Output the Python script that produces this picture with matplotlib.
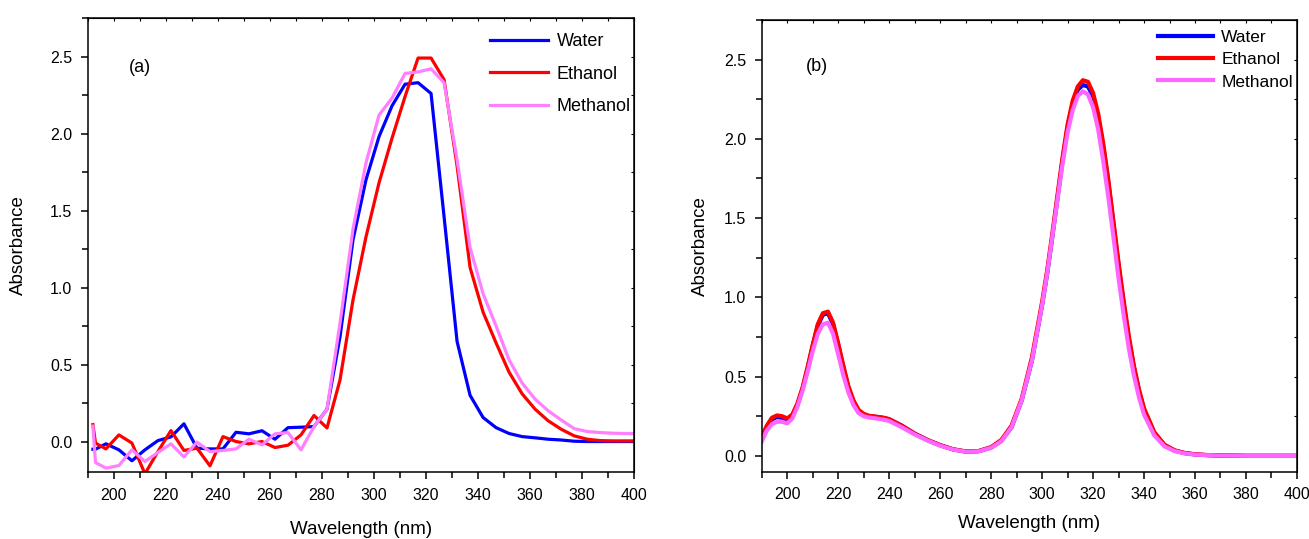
import numpy as np
import matplotlib
matplotlib.use('Agg')
import matplotlib.pyplot as plt
from matplotlib.ticker import MultipleLocator

plt.rcParams['font.family'] = ['Liberation Sans', 'DejaVu Sans']

# ---- panel (a): raw spectra, 5 nm steps ----
wl_a = [192, 193, 197, 202, 207, 212, 217, 222, 227, 232, 237, 242, 247, 252, 257,
        262, 267, 272, 277, 282, 287, 292, 297, 302, 307, 312, 317, 322, 327, 332,
        337, 342, 347, 352, 357, 362, 367, 372, 377, 382, 387, 392, 397, 400]
water_a = [-0.05, -0.05, -0.015, -0.054, -0.125, -0.054, 0.006, 0.03, 0.115, -0.043,
           -0.048, -0.048, 0.06, 0.05, 0.07, 0.015, 0.09, 0.093, 0.097, 0.21,
           0.68, 1.31, 1.70, 1.98, 2.18, 2.32, 2.33, 2.26, 1.46, 0.65,
           0.30, 0.156, 0.09, 0.052, 0.032, 0.024, 0.015, 0.01, 0.002, 0.0,
           0.0, 0.0, 0.0, 0.0]
ethanol_a = [0.11, -0.01, -0.048, 0.043, -0.01, -0.21, -0.065, 0.071, -0.058, -0.043,
             -0.158, 0.032, 0.0, -0.015, 0.0, -0.039, -0.024, 0.043, 0.169, 0.088,
             0.40, 0.92, 1.33, 1.68, 1.97, 2.24, 2.49, 2.49, 2.35, 1.79,
             1.13, 0.84, 0.64, 0.45, 0.31, 0.21, 0.135, 0.08, 0.037, 0.015,
             0.006, 0.004, 0.004, 0.004]
methanol_a = [0.10, -0.136, -0.173, -0.156, -0.054, -0.13, -0.071, -0.015, -0.10, -0.004,
              -0.065, -0.058, -0.048, 0.015, -0.022, 0.05, 0.058, -0.054, 0.097, 0.21,
              0.77, 1.38, 1.81, 2.12, 2.23, 2.39, 2.40, 2.42, 2.33, 1.83,
              1.26, 0.96, 0.75, 0.53, 0.38, 0.275, 0.20, 0.14, 0.084, 0.065,
              0.058, 0.054, 0.052, 0.052]

# ---- panel (b): smoothed spectra ----
wl_b = [190, 192, 194, 196, 198, 200, 202, 204, 206, 208, 210, 212, 214, 216, 218,
        220, 222, 224, 226, 228, 230, 232, 234, 236, 238, 240, 245, 250, 255, 260,
        265, 270, 275, 280, 284, 288, 292, 296, 300, 302, 304, 306, 308, 310, 312,
        314, 316, 318, 320, 322, 324, 326, 328, 330, 332, 334, 336, 338, 340, 344,
        348, 352, 356, 360, 365, 370, 380, 390, 400]
ethanol_b = [0.12, 0.19, 0.24, 0.255, 0.25, 0.236, 0.26, 0.33, 0.43, 0.56, 0.70, 0.83, 0.90, 0.91, 0.84,
             0.71, 0.57, 0.44, 0.35, 0.29, 0.265, 0.253, 0.249, 0.245, 0.24, 0.232, 0.19, 0.14, 0.10, 0.068,
             0.042, 0.028, 0.03, 0.055, 0.10, 0.19, 0.36, 0.62, 0.97, 1.17, 1.40, 1.64, 1.88, 2.09, 2.24,
             2.33, 2.37, 2.36, 2.29, 2.16, 1.97, 1.74, 1.48, 1.22, 0.98, 0.76, 0.57, 0.42, 0.30, 0.15,
             0.07, 0.035, 0.018, 0.01, 0.005, 0.003, 0.0, 0.0, 0.0]
water_b = [0.11, 0.18, 0.23, 0.245, 0.24, 0.228, 0.255, 0.32, 0.42, 0.55, 0.69, 0.82, 0.89, 0.90, 0.83,
           0.70, 0.56, 0.43, 0.34, 0.285, 0.26, 0.25, 0.247, 0.243, 0.238, 0.23, 0.19, 0.14, 0.10, 0.067,
           0.041, 0.027, 0.029, 0.052, 0.095, 0.18, 0.35, 0.60, 0.95, 1.15, 1.38, 1.62, 1.86, 2.07, 2.22,
           2.31, 2.34, 2.33, 2.27, 2.14, 1.95, 1.72, 1.46, 1.20, 0.96, 0.74, 0.56, 0.41, 0.29, 0.145,
           0.068, 0.033, 0.017, 0.009, 0.004, 0.002, 0.0, 0.0, 0.0]
methanol_b = [0.09, 0.16, 0.20, 0.215, 0.215, 0.205, 0.235, 0.31, 0.41, 0.53, 0.66, 0.77, 0.83, 0.84, 0.77,
              0.64, 0.51, 0.40, 0.32, 0.27, 0.25, 0.242, 0.238, 0.233, 0.228, 0.22, 0.18, 0.135, 0.097, 0.064,
              0.04, 0.026, 0.028, 0.05, 0.092, 0.18, 0.35, 0.60, 0.95, 1.15, 1.38, 1.61, 1.84, 2.04, 2.18,
              2.27, 2.30, 2.28, 2.20, 2.06, 1.86, 1.63, 1.38, 1.12, 0.89, 0.68, 0.51, 0.37, 0.26, 0.13,
              0.06, 0.03, 0.015, 0.008, 0.004, 0.002, 0.0, 0.0, 0.0]

labels = ['Water', 'Ethanol', 'Methanol']

fig = plt.figure(figsize=(13.09, 5.39), dpi=100)
ax1 = fig.add_axes([0.0670, 0.1237, 0.4173, 0.8429])
ax2 = fig.add_axes([0.5819, 0.1249, 0.4089, 0.8380])

ax1.plot(wl_a, water_a, color='#0000ff', lw=2.3, label=labels[0])
ax1.plot(wl_a, ethanol_a, color='#ff0000', lw=2.3, label=labels[1])
ax1.plot(wl_a, methanol_a, color='#ff80ff', lw=2.3, label=labels[2])

ax2.plot(wl_b, water_b, color='#0000ff', lw=3.0, label=labels[0])
ax2.plot(wl_b, ethanol_b, color='#ff0000', lw=3.0, label=labels[1])
ax2.plot(wl_b, methanol_b, color='#ff66ff', lw=3.0, label=labels[2])

ax1.set_ylim(-0.2, 2.75)
ax2.set_ylim(-0.1, 2.75)

for ax in (ax1, ax2):
    ax.set_xlim(190, 400)
    ax.xaxis.set_major_locator(MultipleLocator(20))
    ax.xaxis.set_minor_locator(MultipleLocator(10))
    ax.yaxis.set_major_locator(MultipleLocator(0.5))
    ax.yaxis.set_minor_locator(MultipleLocator(0.25))
    ax.tick_params(which='both', direction='out', labelsize=11.5, width=1.1,
                   top=False, right=False)
    ax.tick_params(which='major', length=5, pad=6)
    ax.tick_params(which='minor', length=4)
    for s in ax.spines.values():
        s.set_linewidth(1.1)
    # inner ticks on top and right
    sec = ax.secondary_xaxis('top')
    sec.xaxis.set_major_locator(MultipleLocator(10))
    sec.tick_params(direction='in', length=2.5, labeltop=False, width=0.8)
    secy = ax.secondary_yaxis('right')
    secy.yaxis.set_major_locator(MultipleLocator(0.25))
    secy.tick_params(direction='in', length=2.5, labelright=False, width=0.8)

ax1.set_xlabel('Wavelength (nm)', fontsize=13.5, labelpad=13)
ax1.set_ylabel('Absorbance', fontsize=13.5, labelpad=17)
ax2.set_xlabel('Wavelength (nm)', fontsize=13.5, labelpad=9.5)
ax2.set_ylabel('Absorbance', fontsize=13.5, labelpad=11)

# legends
h, l = ax1.get_legend_handles_labels()
ax1.legend(h, l, loc='upper left', bbox_to_anchor=(0.736, 0.967), frameon=False,
           fontsize=13, handlelength=3.2, handletextpad=0.5, labelspacing=0.87,
           borderpad=0, borderaxespad=0)
h, l = ax2.get_legend_handles_labels()
ax2.legend(h, l, loc='upper left', bbox_to_anchor=(0.740, 0.979), frameon=False,
           fontsize=12.5, handlelength=3.2, handletextpad=0.46, labelspacing=0.42,
           borderpad=0, borderaxespad=0)

ax1.text(0.096, 0.89, '(a)', transform=ax1.transAxes, ha='center', va='center', fontsize=13)
ax2.text(0.103, 0.898, '(b)', transform=ax2.transAxes, ha='center', va='center', fontsize=13)

fig.savefig('out.png', dpi=100)
